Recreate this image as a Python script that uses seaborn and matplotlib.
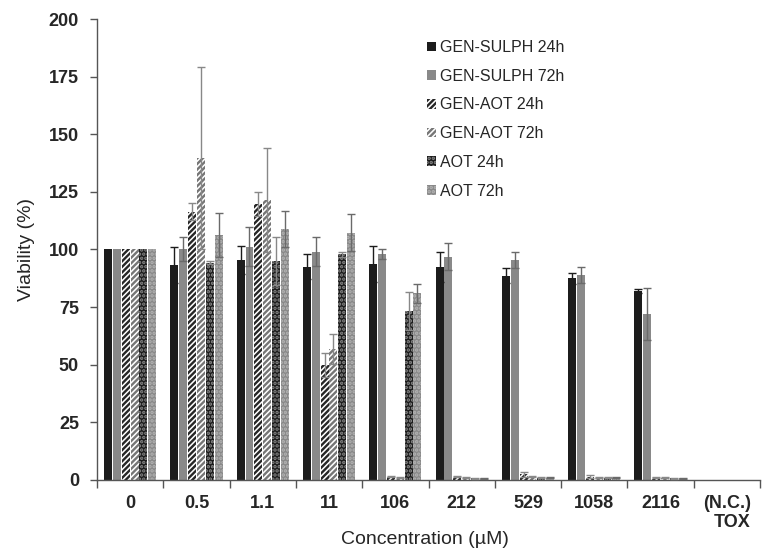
import numpy as np
import pandas as pd
import matplotlib
matplotlib.use("Agg")
import matplotlib.pyplot as plt
import seaborn as sns
from matplotlib.patches import Patch

categories = ["0", "0.5", "1.1", "11", "106", "212", "529", "1058", "2116", "(N.C.)\nTOX"]
series = ["GEN-SULPH 24h", "GEN-SULPH 72h", "GEN-AOT 24h", "GEN-AOT 72h", "AOT 24h", "AOT 72h"]

sulph24 = [100, 93.3, 95.4, 92.5, 93.7, 92.3, 88.6, 87.5, 82.0, 0]
sulph24_err = [0, 8.0, 6.1, 5.4, 8.0, 6.5, 3.2, 2.5, 0.9, 0]
sulph72 = [100, 100.2, 101.2, 99.0, 98.0, 96.9, 95.4, 89.0, 71.9, 0]
sulph72_err = [0, 5.1, 8.4, 6.3, 2.0, 5.8, 3.6, 3.5, 11.3, 0]
genaot24 = [100, 116.4, 119.7, 49.9, 1.5, 1.5, 2.5, 1.5, 1.2, 0]
genaot24_err = [0, 3.6, 5.3, 5.3, 0.3, 0.3, 1.0, 0.5, 0.3, 0]
genaot72 = [100, 139.5, 121.5, 57.0, 1.0, 1.0, 1.5, 1.0, 1.0, 0]
genaot72_err = [0, 39.5, 22.4, 6.5, 0.3, 0.3, 0.4, 0.3, 0.3, 0]
aot24 = [100, 94.3, 95.2, 97.9, 73.3, 0.8, 1.0, 1.0, 0.8, 0]
aot24_err = [0, 0.8, 10.4, 1.0, 8.4, 0.2, 0.3, 0.2, 0.2, 0]
aot72 = [100, 106.3, 108.8, 107.3, 81.0, 0.8, 1.0, 1.0, 0.8, 0]
aot72_err = [0, 9.4, 7.9, 7.9, 4.0, 0.2, 0.3, 0.2, 0.2, 0]

values = [sulph24, sulph72, genaot24, genaot72, aot24, aot72]
errors = [sulph24_err, sulph72_err, genaot24_err, genaot72_err, aot24_err, aot72_err]

rows = []
for s, vals in zip(series, values):
    for c, v in zip(categories, vals):
        rows.append({"Concentration": c, "Series": s, "Viability": v})
df = pd.DataFrame(rows)

sns.set_theme(style="white")
plt.rcParams["font.family"] = ["Liberation Sans", "DejaVu Sans"]
plt.rcParams["hatch.linewidth"] = 1.7

BLACK = "#1c1c1c"
GRAY = "#898989"
styles = [
    dict(fc=BLACK, hc=BLACK, hatch=None, ec="#1c1c1c"),
    dict(fc=GRAY, hc=GRAY, hatch=None, ec="#6a6a6a"),
    dict(fc="white", hc="#262626", hatch="//////", ec="#888888"),
    dict(fc="white", hc="#767676", hatch="//////", ec="#888888"),
    dict(fc=BLACK, hc="#8a8a8a", hatch="....", ec="#888888"),
    dict(fc=GRAY, hc="#b4b4b4", hatch="....", ec="#6a6a6a"),
]

fig = plt.figure(figsize=(7.62, 5.54), dpi=100)
ax = fig.add_axes([97 / 762, 74 / 554, (760 - 97) / 762, (480 - 19) / 554])

sns.barplot(data=df, x="Concentration", y="Viability", hue="Series",
            order=categories, hue_order=series, errorbar=None,
            width=0.8, gap=0.1, legend=False, ax=ax)

for cont, st, err in zip(ax.containers, styles, errors):
    xs, ys = [], []
    for bar in cont:
        bar.set_facecolor(st["fc"])
        bar.set_edgecolor(st["hc"])
        bar.set_linewidth(0)
        if st["hatch"]:
            bar.set_hatch(st["hatch"])
        xs.append(bar.get_x() + bar.get_width() / 2)
        ys.append(bar.get_height())
    xs = np.array(xs); ys = np.array(ys); e = np.array(err)
    m = e > 0
    ax.errorbar(xs[m], ys[m], yerr=e[m], fmt="none", ecolor=st["ec"],
                elinewidth=1.0, capsize=3, capthick=1.0, zorder=3)

ax.set_ylim(0, 200)
ax.set_xlim(-0.5, (760 - 97) / 67.56 - 0.5)
ax.set_yticks(np.arange(0, 201, 25))
ax.set_yticklabels([str(v) for v in range(0, 201, 25)], fontsize=13, fontweight="bold")
ax.set_xticks(range(len(categories)))
ax.set_xticklabels(categories, fontsize=13, fontweight="bold", multialignment="right",
                   linespacing=1.15)
ax.set_xticks(np.arange(-0.5, len(categories), 1.0), minor=True)
ax.tick_params(axis="x", which="major", length=0, pad=11)
ax.tick_params(axis="x", which="minor", length=6, width=1, color="#555555", direction="out", bottom=True)
ax.tick_params(axis="y", length=5, width=1, color="#555555", direction="out", left=True, pad=8)

for sp in ["top", "right"]:
    ax.spines[sp].set_visible(False)
for sp in ["left", "bottom"]:
    ax.spines[sp].set_color("#555555")
    ax.spines[sp].set_linewidth(1.0)

ax.set_xlabel("Concentration (\u00b5M)", fontsize=14)
ax.xaxis.set_label_coords((425 - 97) / 663, -(531 - 480) / 461)
ax.set_ylabel("Viability (%)", fontsize=14, labelpad=10)

handles = []
for s, st in zip(series, styles):
    handles.append(Patch(facecolor=st["fc"], edgecolor=st["hc"], hatch=st["hatch"], linewidth=0, label=s))
leg = ax.legend(handles=handles, loc="upper left", bbox_to_anchor=((427 - 97) / 663, 1 - (40 - 19) / 461),
                frameon=False, fontsize=11.5, handlelength=0.55, handleheight=0.55,
                handletextpad=0.25, labelspacing=0.86, borderaxespad=0, borderpad=0)

fig.savefig("out.png", dpi=100, facecolor="white")
